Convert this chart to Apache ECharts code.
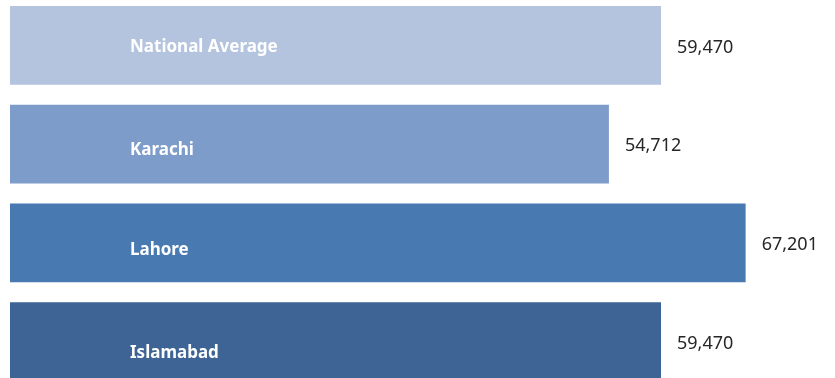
<!DOCTYPE html>
<html>
<head>
<meta charset="utf-8">
<script src="https://cdn.jsdelivr.net/npm/echarts@6/dist/echarts.min.js"></script>
<style>
html,body{margin:0;padding:0;background:#fff;overflow:hidden;width:835px;height:378px}
#chart{position:absolute;left:0;top:-4px;width:835px;height:395px}
</style>
</head>
<body>
<div id="chart"></div>
<script>
// Data
var categories = ["National Average", "Karachi", "Lahore", "Islamabad"];
var values = [59470, 54712, 67201, 59470];

// Styles
var barColors = ["#b4c3de", "#7e9cc9", "#4879b1", "#3d6494"];
var nameOffsets = [1.5, 6, 7.5, 12];

var chart = echarts.init(document.getElementById('chart'), null, {renderer: 'canvas'});

function fmt(v) { return v.toLocaleString('en-US'); }

var mainData = values.map(function (v, i) {
  return { value: v, itemStyle: { color: barColors[i] } };
});
var nameData = values.map(function (v, i) {
  return { value: v, label: { offset: [0, nameOffsets[i]] } };
});

chart.setOption({
  animation: false,
  grid: { left: 10, right: 4, top: 0, bottom: 0, containLabel: false },
  xAxis: { type: 'value', min: 0, max: 75000, show: false },
  yAxis: { type: 'category', data: categories, inverse: true, show: false },
  series: [
    {
      type: 'bar',
      data: mainData,
      barCategoryGap: '20.5%',
      label: {
        show: true,
        position: 'right',
        distance: 16,
        offset: [0, 2],
        color: '#262626',
        fontFamily: 'Noto Sans',
        fontSize: 18,
        formatter: function (p) { return fmt(p.value); }
      }
    },
    {
      type: 'bar',
      data: nameData,
      barGap: '-100%',
      barCategoryGap: '20.5%',
      itemStyle: { color: 'rgba(0,0,0,0)' },
      silent: true,
      label: {
        show: true,
        position: [120, '50%'],
        align: 'left',
        verticalAlign: 'middle',
        color: '#ffffff',
        fontFamily: 'Noto Sans',
        fontWeight: 'bold',
        fontSize: 17,
        formatter: function (p) { return p.name; }
      }
    }
  ]
});
</script>
</body>
</html>
